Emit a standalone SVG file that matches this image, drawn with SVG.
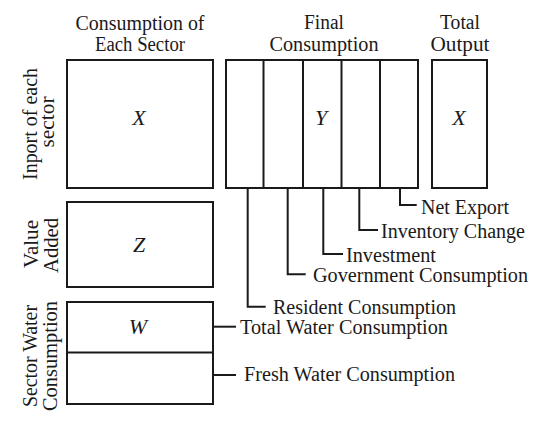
<svg xmlns="http://www.w3.org/2000/svg" width="550" height="430" viewBox="0 0 550 430">
<style>
.box{fill:#fff;stroke:#1a1a1a;stroke-width:2}
.ln{fill:none;stroke:#1a1a1a;stroke-width:2}
text{font-family:"Liberation Serif","Times New Roman",serif;font-size:20px;fill:#1a1a1a}
.c{text-anchor:middle}
.m{font-style:italic;font-size:22px;text-anchor:middle}
</style>
<rect width="550" height="430" fill="#fff"/>
<g id="headers">
<text class="c" x="140" y="30" textLength="129" lengthAdjust="spacingAndGlyphs">Consumption of</text>
<text class="c" x="140" y="51" textLength="90" lengthAdjust="spacingAndGlyphs">Each Sector</text>
<text class="c" x="324" y="29" textLength="40" lengthAdjust="spacingAndGlyphs">Final</text>
<text class="c" x="324" y="51" textLength="109" lengthAdjust="spacingAndGlyphs">Consumption</text>
<text class="c" x="460" y="29" textLength="40" lengthAdjust="spacingAndGlyphs">Total</text>
<text class="c" x="460" y="51" textLength="59" lengthAdjust="spacingAndGlyphs">Output</text>
</g>
<g id="row-labels">
<text class="c" transform="translate(36.5,124) rotate(-90)" textLength="112" lengthAdjust="spacingAndGlyphs">Inport of each</text>
<text class="c" transform="translate(54,122) rotate(-90)" textLength="51" lengthAdjust="spacingAndGlyphs">sector</text>
<text class="c" transform="translate(37.5,244) rotate(-90)" textLength="48" lengthAdjust="spacingAndGlyphs">Value</text>
<text class="c" transform="translate(58,245.5) rotate(-90)" textLength="55" lengthAdjust="spacingAndGlyphs">Added</text>
<text class="c" transform="translate(37,356) rotate(-90)" textLength="102" lengthAdjust="spacingAndGlyphs">Sector Water</text>
<text class="c" transform="translate(57,356) rotate(-90)" textLength="110" lengthAdjust="spacingAndGlyphs">Consumption</text>
</g>
<g id="node-X">
<rect class="box" x="67" y="60" width="146" height="128"/>
<text class="m" x="139" y="125">X</text>
</g>
<g id="node-Y">
<rect class="box" x="226" y="60" width="192" height="128"/>
<path class="ln" d="M263.5 60V188M303 60V188M341.5 60V188M380 60V188"/>
<text class="m" x="321" y="125">Y</text>
</g>
<g id="node-total">
<rect class="box" x="432" y="60" width="55" height="128"/>
<text class="m" x="459" y="125">X</text>
</g>
<g id="node-Z">
<rect class="box" x="67" y="202" width="146" height="85"/>
<text class="m" x="139" y="252">Z</text>
</g>
<g id="node-W">
<rect class="box" x="67" y="302" width="146" height="102"/>
<path class="ln" d="M67 352.5H213"/>
<text class="m" x="138" y="334">W</text>
</g>
<g id="connectors">
<path class="ln" d="M247.7 188V306.7H265.7"/>
<path class="ln" d="M287.7 188V274.3H305.7"/>
<path class="ln" d="M323.3 188V254H343"/>
<path class="ln" d="M359.3 188V230H378"/>
<path class="ln" d="M400 188V205H416.7"/>
<path class="ln" d="M213 326.7H236"/>
<path class="ln" d="M213 375H236"/>
</g>
<g id="connector-labels">
<text x="421" y="214" textLength="88" lengthAdjust="spacingAndGlyphs">Net Export</text>
<text x="381" y="237.5" textLength="144" lengthAdjust="spacingAndGlyphs">Inventory Change</text>
<text x="346" y="261.5" textLength="90" lengthAdjust="spacingAndGlyphs">Investment</text>
<text x="313" y="281.5" textLength="215" lengthAdjust="spacingAndGlyphs">Government Consumption</text>
<text x="273" y="313.5" textLength="183" lengthAdjust="spacingAndGlyphs">Resident Consumption</text>
<text x="240" y="334" textLength="208" lengthAdjust="spacingAndGlyphs">Total Water Consumption</text>
<text x="244" y="381" textLength="211" lengthAdjust="spacingAndGlyphs">Fresh Water Consumption</text>
</g>
</svg>
